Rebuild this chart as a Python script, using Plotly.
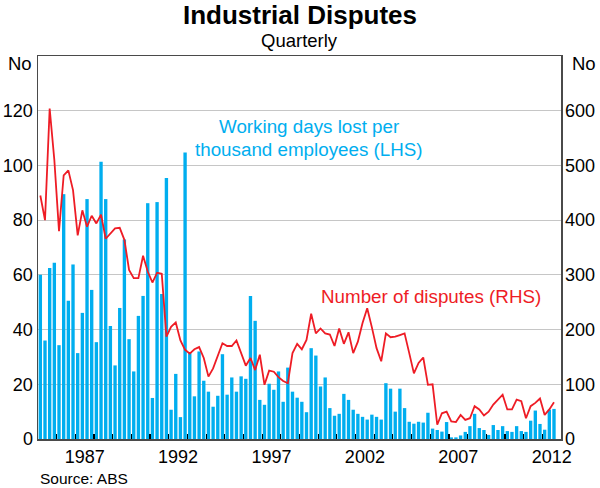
import plotly.graph_objects as go

# ---------------- data (quarterly, 1985 Q1 - 2012 Q3) ----------------
quarters = [f"{y}-Q{q}" for y in range(1985, 2013) for q in range(1, 5)][:111]

working_days_lost = [
    60.0, 36.0, 62.5, 64.4, 34.3, 89.5, 50.5, 63.8, 31.4, 46.1,
    87.7, 54.5, 35.4, 101.3, 87.7, 41.3, 26.9, 47.9, 72.9, 36.5,
    24.7, 45.0, 52.3, 86.2, 15.0, 86.6, 53.0, 95.4, 10.7, 23.8,
    8.0, 104.7, 31.4, 15.6, 32.0, 21.3, 17.3, 11.8, 15.8, 31.0,
    16.2, 22.5, 17.3, 22.9, 22.0, 52.3, 43.2, 14.3, 12.5, 20.2,
    18.0, 24.7, 13.6, 26.1, 17.3, 15.1, 13.6, 9.8, 33.2, 30.5,
    19.2, 22.5, 11.3, 8.5, 9.2, 16.5, 14.3, 10.7, 9.2, 8.1,
    7.1, 8.9, 8.1, 7.1, 20.4, 18.4, 10.0, 18.4, 11.3, 6.3,
    5.6, 6.3, 6.0, 9.6, 3.8, 3.3, 2.7, 6.2, 0.6, 0.6,
    1.3, 2.6, 4.7, 9.2, 4.0, 3.3, 1.5, 5.1, 3.3, 4.7,
    2.9, 2.6, 4.7, 2.9, 2.6, 6.7, 10.4, 5.5, 3.4, 10.7,
    11.0,
]

number_of_disputes = [
    445, 400, 604, 510, 380, 482, 491, 455, 372, 418,
    388, 408, 394, 410, 366, 376, 385, 386, 364, 309,
    294, 294, 335, 306, 286, 304, 302, 187, 205, 213,
    180, 163, 156, 164, 168, 148, 114, 129, 151, 175,
    170, 170, 180, 157, 134, 148, 126, 154, 99, 125,
    123, 113, 106, 102, 157, 174, 164, 181, 229, 193,
    202, 193, 191, 170, 202, 174, 195, 157, 178, 212,
    239, 204, 166, 142, 193, 186, 187, 190, 193, 157,
    120, 139, 149, 99, 100, 26, 47, 50, 32, 31,
    44, 35, 38, 60, 54, 43, 50, 63, 72, 81,
    54, 54, 72, 69, 38, 60, 66, 74, 44, 54,
    67,
]

year_label_values = [1987, 1992, 1997, 2002, 2007, 2012]
left_ticks = [0, 20, 40, 60, 80, 100, 120]
right_ticks = [0, 100, 200, 300, 400, 500, 600]

# ---------------- styling ----------------
FONT = "Liberation Sans, Arial, sans-serif"
BLUE = "#00AEEF"
RED = "#EE1C25"
W, H = 600, 488
ML, MR, MT, MB = 38, 39, 56, 49
PW, PH = W - ML - MR, H - MT - MB

def px_x(px):
    return (px - ML) / PW

def px_y(py):
    return (H - MB - py) / PH

# quarter -> decimal year at mid-quarter
x = [int(s[:4]) + (int(s[-1]) - 0.5) / 4 for s in quarters]

fig = go.Figure()
fig.add_trace(go.Bar(
    x=x, y=working_days_lost, marker=dict(color=BLUE, line=dict(width=0)),
    xaxis="x", yaxis="y", showlegend=False, hoverinfo="skip",
))
fig.add_trace(go.Scatter(
    x=x, y=number_of_disputes, mode="lines",
    line=dict(color=RED, width=1.8),
    xaxis="x", yaxis="y2", showlegend=False, hoverinfo="skip",
))
# invisible helper trace so the label axis renders
fig.add_trace(go.Scatter(
    x=[x[0]], y=[0], mode="markers", marker=dict(opacity=0),
    xaxis="x2", yaxis="y", showlegend=False, hoverinfo="skip",
))

tick_font = dict(family=FONT, size=18, color="#000000")

fig.update_layout(
    width=W, height=H,
    margin=dict(l=ML, r=MR, t=MT, b=MB, autoexpand=False),
    paper_bgcolor="white", plot_bgcolor="white",
    bargap=0.28,
    xaxis=dict(
        range=[1985, 2013], tickmode="array", automargin=False,
        tickvals=list(range(1986, 2013)), ticks="inside", ticklen=5,
        tickcolor="#000000", tickwidth=1.2,
        showticklabels=False, showgrid=False, zeroline=False,
        showline=True, linecolor="#4a4a4a", linewidth=1.5, mirror=True,
    ),
    xaxis2=dict(
        range=[1985, 2013], overlaying="x", side="bottom", anchor="y",
        automargin=False, ticklabelstandoff=5,
        tickmode="array", tickvals=[v + 0.5 for v in year_label_values],
        ticktext=[str(v) for v in year_label_values], ticks="",
        showgrid=False, zeroline=False, showline=False, tickfont=tick_font,
    ),
    yaxis=dict(
        range=[0, 140], tickmode="array", tickvals=left_ticks, automargin=False,
        ticks="", showgrid=True, gridcolor="#c6c6c6", gridwidth=1,
        zeroline=False, showline=True, linecolor="#4a4a4a", linewidth=1.5,
        mirror=True, tickfont=tick_font,
    ),
    yaxis2=dict(
        range=[0, 700], overlaying="y", side="right", tickmode="array",
        automargin=False, ticklabelstandoff=3,
        tickvals=right_ticks, ticks="", showgrid=False, zeroline=False,
        showline=False, tickfont=tick_font,
    ),
    title=dict(
        text="<b>Industrial Disputes</b>", x=0.5, xanchor="center",
        y=1 - 15 / H, yanchor="middle", yref="container",
        font=dict(family=FONT, size=26, color="#000000"),
    ),
)

ann = [
    dict(text="Quarterly", x=0.5, y=px_y(40), xanchor="center", yanchor="middle",
         font=dict(family=FONT, size=18.5, color="#000000")),
    dict(text="No", x=0, y=1, xanchor="right", yanchor="middle", xshift=-4, yshift=-7,
         font=dict(family=FONT, size=18.5, color="#000000")),
    dict(text="No", x=1, y=1, xanchor="left", yanchor="middle", xshift=9, yshift=-7,
         font=dict(family=FONT, size=18.5, color="#000000")),
    dict(text="Working days lost per", x=px_x(308.5), y=px_y(126.7),
         xanchor="center", yanchor="middle",
         font=dict(family=FONT, size=18.8, color=BLUE)),
    dict(text="thousand employees (LHS)", x=px_x(308.5), y=px_y(149.3),
         xanchor="center", yanchor="middle",
         font=dict(family=FONT, size=18.8, color=BLUE)),
    dict(text="Number of disputes (RHS)", x=px_x(430.5), y=px_y(296),
         xanchor="center", yanchor="middle",
         font=dict(family=FONT, size=18.8, color=RED)),
    dict(text="Source: ABS", x=px_x(38), y=px_y(478), xanchor="left", yanchor="middle",
         font=dict(family=FONT, size=15.5, color="#000000")),
]
for a in ann:
    a.update(xref="paper", yref="paper", showarrow=False)
fig.update_layout(annotations=ann)

fig.write_html(
    "out.html",
    config={"displayModeBar": False, "staticPlot": True},
    post_script="document.body.style.margin='0px';document.body.style.overflow='hidden';",
)
